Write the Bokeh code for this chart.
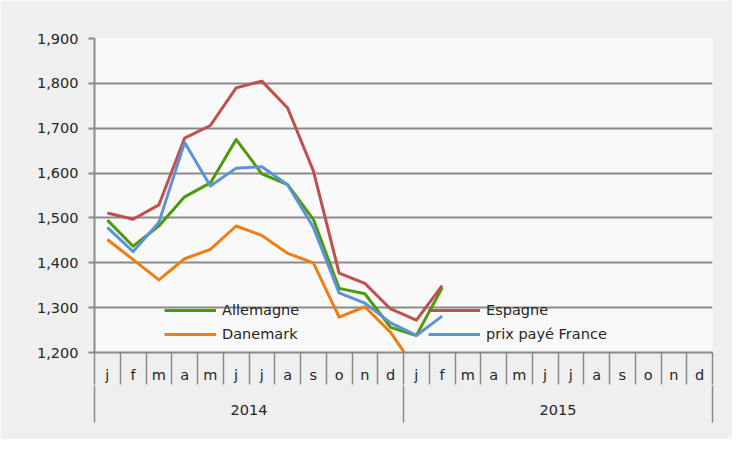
from bokeh.plotting import figure
from bokeh.models import (Range1d, FixedTicker, LinearAxis, NumeralTickFormatter,
                          Legend, LegendItem)
from bokeh.embed import file_html
from bokeh.resources import INLINE

# ---- data ----
months = ["j", "f", "m", "a", "m", "j", "j", "a", "s", "o", "n", "d"]
years = ["2014", "2015"]
allemagne = [1495, 1437, 1482, 1547, 1578, 1675, 1598, 1574, 1497, 1343, 1331, 1256, 1238, 1344]
danemark = [1452, 1407, 1362, 1409, 1430, 1482, 1461, 1421, 1400, 1279, 1302, 1245, 1160]
espagne = [1511, 1497, 1529, 1678, 1706, 1790, 1805, 1745, 1605, 1377, 1354, 1297, 1272, 1349]
france = [1479, 1425, 1490, 1668, 1571, 1611, 1614, 1574, 1479, 1333, 1310, 1266, 1238, 1281]
y_ticks = [1200, 1300, 1400, 1500, 1600, 1700, 1800, 1900]

n_cat = len(months) * len(years)
centers = [i + 0.5 for i in range(n_cat)]
month_labels = months * len(years)

FONT = "DejaVu Sans"
GRAY = "#8a8a8a"
TXT = "#262626"
FS = "14.5px"

p = figure(width=732, height=439, output_backend="svg", toolbar_location=None,
           x_range=Range1d(0, n_cat), y_range=Range1d(y_ticks[0], y_ticks[-1]),
           min_border_left=94, min_border_top=38, min_border_right=20, min_border_bottom=87,
           x_axis_location=None, y_axis_location=None)
p.border_fill_color = "#efefef"
p.background_fill_color = "#f9f9f9"
p.outline_line_color = None

# y axis
yax = LinearAxis(ticker=FixedTicker(ticks=y_ticks), formatter=NumeralTickFormatter(format="0,0"))
yax.axis_line_color = GRAY
yax.axis_line_width = 2
yax.major_tick_line_color = GRAY
yax.major_tick_line_width = 2
yax.major_tick_out = 6
yax.major_tick_in = 0
yax.minor_tick_line_color = None
yax.minor_tick_out = 0
yax.major_label_standoff = 10
yax.major_label_text_font = FONT
yax.major_label_text_font_size = FS
yax.major_label_text_color = TXT
p.add_layout(yax, "left")

# month axis
mticker = FixedTicker(ticks=centers, minor_ticks=list(range(n_cat + 1)))
xax = LinearAxis(ticker=mticker)
xax.major_label_overrides = {c: m for c, m in zip(centers, month_labels)}
xax.axis_line_color = GRAY
xax.axis_line_width = 2
xax.major_tick_line_color = None
xax.major_tick_out = 0
xax.major_tick_in = 0
xax.minor_tick_line_color = GRAY
xax.minor_tick_line_width = 1.5
xax.minor_tick_out = 32
xax.minor_tick_in = 0
xax.major_label_standoff = -18
xax.major_label_text_font = FONT
xax.major_label_text_font_size = FS
xax.major_label_text_color = TXT
p.add_layout(xax, "below")

# year axis
yr_pos = [len(months) * (k + 0.5) for k in range(len(years))]
yticker = FixedTicker(ticks=yr_pos, minor_ticks=[len(months) * k for k in range(len(years) + 1)])
yrax = LinearAxis(ticker=yticker)
yrax.major_label_overrides = {c: y for c, y in zip(yr_pos, years)}
yrax.axis_line_color = None
yrax.major_tick_line_color = None
yrax.major_tick_out = 0
yrax.major_tick_in = 0
yrax.minor_tick_line_color = GRAY
yrax.minor_tick_line_width = 1.5
yrax.minor_tick_out = 37
yrax.minor_tick_in = 0
yrax.major_label_standoff = -18
yrax.major_label_text_font = FONT
yrax.major_label_text_font_size = FS
yrax.major_label_text_color = TXT
p.add_layout(yrax, "below")

p.xgrid.visible = False
p.ygrid.ticker = FixedTicker(ticks=y_ticks)
p.ygrid.grid_line_color = GRAY
p.ygrid.grid_line_width = 2

series = [
    ("Allemagne", allemagne, "#4f9a0a"),
    ("Danemark", danemark, "#ee7d12"),
    ("Espagne", espagne, "#c0504d"),
    ("prix payé France", france, "#5b94d6"),
]
rends = {}
for name, vals, col in series:
    r = p.line(centers[:len(vals)], vals, line_color=col, line_width=3, line_join="round")
    rends[name] = r

def make_legend(names, loc):
    lg = Legend(items=[LegendItem(label=n, renderers=[rends[n]]) for n in names],
                location=loc, orientation="vertical")
    lg.glyph_width = 52
    lg.glyph_height = 20
    lg.label_height = 20
    lg.label_standoff = 6
    lg.spacing = 4
    lg.padding = 0
    lg.margin = 0
    lg.border_line_alpha = 0
    lg.background_fill_alpha = 0
    lg.label_text_font = FONT
    lg.label_text_font_size = FS
    lg.label_text_color = TXT
    return lg

p.add_layout(make_legend(["Allemagne", "Danemark"], (70, 8)))
p.add_layout(make_legend(["Espagne", "prix payé France"], (334, 8)))

open("out.html", "w").write(file_html(p, INLINE))
